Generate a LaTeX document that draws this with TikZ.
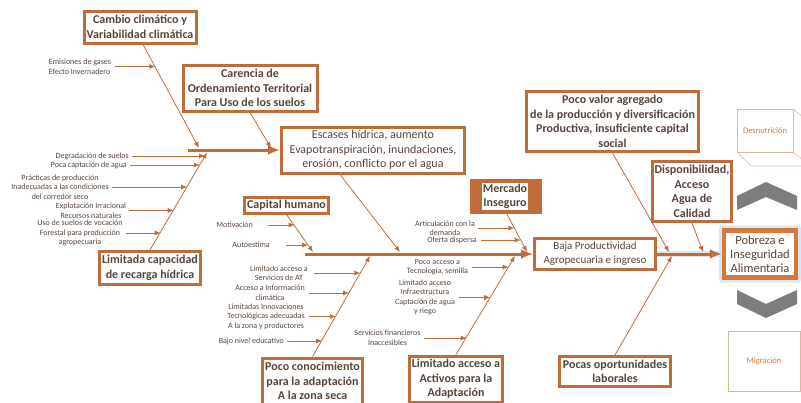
\documentclass[tikz,border=0pt]{standalone}
\usepackage{fontspec}
\setmainfont{Carlito}
\usetikzlibrary{arrows.meta}
\definecolor{bc}{RGB}{192,108,58}
\definecolor{tc}{RGB}{88,68,58}
\definecolor{oc}{RGB}{214,120,60}
\definecolor{gl}{RGB}{218,230,244}
\definecolor{gy}{RGB}{125,125,125}
\begin{document}
\begin{tikzpicture}[x=1pt,y=-1pt,
  bigbox/.style={draw=bc, line width=3pt, fill=white, inner sep=0pt, align=center, text=tc, font=\fontsize{12}{14.5}\selectfont\bfseries},
  regbox/.style={draw=bc, line width=3pt, fill=white, inner sep=0pt, align=center, text=tc, font=\fontsize{12}{14.5}\selectfont},
  lbl/.style={text=tc, align=center, inner sep=0pt, font=\fontsize{8}{9.5}\selectfont},
  thinarr/.style={draw=bc, line width=0.8pt, -{Latex[length=6pt,width=5pt]}},
  spine/.style={draw=bc, line width=3pt, -{Latex[length=12pt,width=10pt]}},
  deco/.style={draw=oc!55, line width=0.6pt},
  decotxt/.style={text=oc, inner sep=0pt, font=\fontsize{8.5}{9}\selectfont},
]
\useasboundingbox (0,0) rectangle (801,402);

% ---------- boxes ----------
\node[bigbox, minimum width=112, minimum height=32] (cambio) at (140,27) {Cambio climático y\\Variabilidad climática};
\node[bigbox, minimum width=134, minimum height=46] (carencia) at (250,88) {Carencia de\\Ordenamiento Territorial\\Para Uso de los suelos};
\node[regbox, minimum width=183, minimum height=46] (escases) at (373,150) {Escases hídrica, aumento\\Evapotranspiración, inundaciones,\\erosión, conflicto por el agua};
\node[bigbox, minimum width=101, minimum height=33] (limitada) at (150,268) {Limitada capacidad\\de recarga hídrica};
\node[bigbox, minimum width=84, minimum height=16] (capital) at (286.5,205) {Capital humano};
\node[bigbox, minimum width=100, minimum height=46] (pococon) at (312.5,381) {Poco conocimiento\\para la adaptación\\A la zona seca};
\node[bigbox, minimum width=93, minimum height=46] (activos) at (456,379) {Limitado acceso a\\Activos para la\\Adaptación};
\node[fill=bc, minimum width=72, minimum height=35, inner sep=0pt] (mercado) at (506,196.5) {};
\node[fill=white, inner sep=0pt, minimum width=46, minimum height=27, align=center, text=tc, font=\fontsize{12}{14.5}\selectfont\bfseries] (mercadotxt) at (505,196.5) {Mercado\\Inseguro};
\node[regbox, font=\fontsize{11}{14}\selectfont, minimum width=121, minimum height=31] (baja) at (595,254) {Baja Productividad\\Agropecuaria e ingreso};
\node[bigbox, minimum width=172, minimum height=60] (valor) at (612.5,121.5) {Poco valor agregado\\de la producción y diversificación\\Productiva, insuficiente capital\\social};
\node[bigbox, minimum width=79, minimum height=60] (dispon) at (692,191.5) {Disponibilidad,\\Acceso\\Agua de\\Calidad};
\node[bigbox, minimum width=111, minimum height=30] (pocas) at (615,371.5) {Pocas oportunidades\\laborales};
\node[fill=gl, minimum width=82, minimum height=57, inner sep=0pt, rounded corners=3pt] (glow) at (760,254) {};
\node[regbox, draw=oc, line width=4.5pt, minimum width=72, minimum height=47, font=\fontsize{12.5}{14}\selectfont] (pobreza) at (760,254) {Pobreza e\\Inseguridad\\Alimentaria};

% ---------- small labels ----------
\node[lbl, align=left] (emis) at (80,66.5) {Emisiones de gases\\Efecto Invernadero};
\node[lbl, anchor=east] (degr) at (129,156) {Degradación de suelos};
\node[lbl, anchor=east] (poca) at (127,165) {Poca captación de agua};
\node[lbl] (pract) at (60,187) {Prácticas de producción\\Inadecuadas a las condiciones\\del corredor seco};
\node[lbl] (explo) at (91,210.5) {Explotación Irracional\\Recursos naturales};
\node[lbl] (usosu) at (80,233) {Uso de suelos de vocación\\Forestal para producción\\agropecuaria};
\node[lbl, anchor=east] (motiv) at (253,225) {Motivación};
\node[lbl, anchor=east] (autoe) at (270,245) {Autoestima};
\node[lbl] (servat) at (279,273) {Limitado acceso a\\Servicios de AT};
\node[lbl] (infoc) at (270,293) {Acceso a Información\\climática};
\node[lbl] (innov) at (266,316.5) {Limitadas Innovaciones\\Tecnológicas adecuadas\\A la zona y productores};
\node[lbl, anchor=east] (bajon) at (284,341) {Bajo nivel educativo};
\node[lbl] (tecno) at (437.5,267) {Poco acceso a\\Tecnología, semilla};
\node[lbl] (infra) at (425,297.5) {Limitado acceso\\Infraestructura\\Captación de agua\\y riego};
\node[lbl] (finan) at (387.5,338) {Servicios financieros\\Inaccesibles};
\node[lbl] (artic) at (445,228) {Articulación con la\\demanda};
\node[lbl] (ofert) at (452,240) {Oferta dispersa};

% ---------- spines ----------
\coordinate (s1) at (188,150);
\coordinate (s2) at (305,254);
\draw[gl, line width=6pt] (baja.east) -- (pobreza.west);
\draw[spine] (s1) -- (escases.west);
\draw[spine] (s2) -- (baja.west);
\draw[spine] (baja.east) -- (pobreza.west);

% ---------- diagonal connectors ----------
\coordinate (tcam) at (199,148);
\coordinate (tcar) at (271,148);
\coordinate (tlim) at (207,152.5);
\coordinate (tesc) at (400,252);
\coordinate (tcap) at (313,252);
\coordinate (tpoc) at (370,256);
\coordinate (tact) at (515,256);
\coordinate (tmer) at (527,252);
\coordinate (tval) at (669,252);
\coordinate (tdis) at (703,252);
\coordinate (tpcs) at (672,256);
\draw[thinarr] ([xshift=3pt]cambio.south) -- (tcam);
\draw[thinarr] (carencia.south) -- (tcar);
\draw[thinarr] (limitada.north) -- (tlim);
\draw[thinarr] ([xshift=-33pt]escases.south) -- (tesc);
\draw[thinarr] (capital.south) -- (tcap);
\draw[thinarr] (pococon.north) -- (tpoc);
\draw[thinarr] (activos.north) -- (tact);
\draw[thinarr] ([xshift=1pt]mercado.south) -- (tmer);
\draw[thinarr] (valor.south) -- (tval);
\draw[thinarr] (dispon.south) -- (tdis);
\draw[thinarr] (pocas.north) -- (tpcs);

% ---------- label arrows ----------
\draw[thinarr] ([xshift=4pt]emis.east) -- (155.4,66.5);
\draw[thinarr] ([xshift=3pt]degr.east) -- (205,156);
\draw[thinarr] ([xshift=3pt]poca.east) -- (199.8,165);
\draw[thinarr] ([xshift=3pt]pract.east) -- (187.1,187);
\draw[thinarr] ([xshift=3pt]explo.east) -- (173.6,210.5);
\draw[thinarr] ([xshift=3pt]usosu.east) -- (160.7,233);
\draw[thinarr] ([xshift=15pt]motiv.east) -- (294.7,225);
\draw[thinarr] ([xshift=16pt]autoe.east) -- (308.2,245);
\draw[thinarr] ([xshift=6pt]servat.east) -- (360.4,273);
\draw[thinarr] ([xshift=4pt]infoc.east) -- (349.1,293);
\draw[thinarr] ([xshift=4pt]innov.east) -- (335.9,316.5);
\draw[thinarr] ([xshift=3pt]bajon.east) -- (322.1,341);
\draw[thinarr] ([xshift=4pt]tecno.east) -- (508.5,267);
\draw[thinarr] ([xshift=4pt]infra.east) -- (490.2,297.5);
\draw[thinarr] ([xshift=3pt]finan.east) -- (466.6,338);
\draw[thinarr] ([xshift=3pt]artic.east) -- (514.4,228);
\draw[thinarr] ([xshift=4pt]ofert.east) -- (520.7,240);

% ---------- right side decorations ----------
\draw[deco] (737,109) rectangle (793,152);
\draw[deco] (793,109) -- (803,117);
\draw[deco] (737,152) -- (751,166) -- (803,166);
\draw[deco] (793,152) -- (803,160);
\node[decotxt] (desn) at (765,131) {Desnutrición};
\fill[gy] (737,196) -- (766,182) -- (797,196) -- (797,210) -- (766,197) -- (737,210) -- cycle;
\fill[gy] (737,290) -- (766,304) -- (797,290) -- (797,304) -- (766,318) -- (737,304) -- cycle;
\draw[deco] (728,331) rectangle (800,391);
\node[decotxt] (migr) at (764,361) {Migración};
\end{tikzpicture}
\end{document}
